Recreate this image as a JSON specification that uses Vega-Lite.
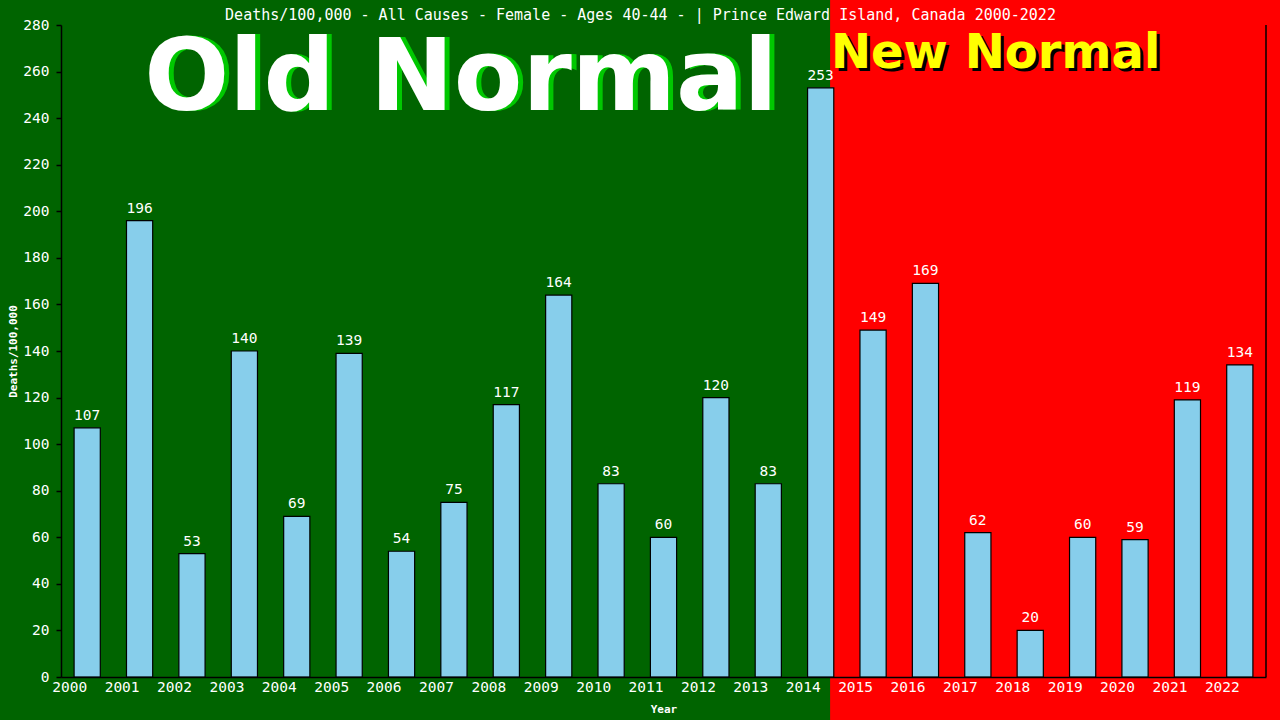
{
  "$schema": "https://vega.github.io/schema/vega-lite/v6.json",
  "width": 1205,
  "height": 652,
  "autosize": "none",
  "padding": {"left": 61, "top": 25, "right": 14, "bottom": 43},
  "background": "#006400",
  "config": {
    "view": {"stroke": null},
    "font": "DejaVu Sans Mono"
  },
  "title": {
    "text": "Deaths/100,000 - All Causes - Female - Ages 40-44 -  | Prince Edward Island, Canada 2000-2022",
    "color": "white",
    "font": "DejaVu Sans Mono",
    "fontSize": 15,
    "fontWeight": "normal",
    "anchor": "middle",
    "frame": "group",
    "baseline": "alphabetic",
    "dx": -23,
    "dy": 36,
    "offset": 0
  },
  "data": {
    "values": [
      {"year": "2000", "rate": 107},
      {"year": "2001", "rate": 196},
      {"year": "2002", "rate": 53},
      {"year": "2003", "rate": 140},
      {"year": "2004", "rate": 69},
      {"year": "2005", "rate": 139},
      {"year": "2006", "rate": 54},
      {"year": "2007", "rate": 75},
      {"year": "2008", "rate": 117},
      {"year": "2009", "rate": 164},
      {"year": "2010", "rate": 83},
      {"year": "2011", "rate": 60},
      {"year": "2012", "rate": 120},
      {"year": "2013", "rate": 83},
      {"year": "2014", "rate": 253},
      {"year": "2015", "rate": 149},
      {"year": "2016", "rate": 169},
      {"year": "2017", "rate": 62},
      {"year": "2018", "rate": 20},
      {"year": "2019", "rate": 60},
      {"year": "2020", "rate": 59},
      {"year": "2021", "rate": 119},
      {"year": "2022", "rate": 134}
    ]
  },
  "layer": [
    {
      "data": {"values": [{}]},
      "mark": {"type": "rect", "color": "#FF0000", "clip": false},
      "encoding": {
        "x": {"datum": "2014", "bandPosition": 0.86},
        "x2": {"datum": "2022", "bandPosition": 2.4},
        "y": {"datum": 291},
        "y2": {"datum": -25}
      }
    },
    {
      "data": {"values": [{}]},
      "mark": {"type": "text", "text": "Old Normal", "font": "DejaVu Sans", "fontWeight": "bold", "fontSize": 100, "color": "#00C800", "align": "center", "baseline": "alphabetic", "dx": 5},
      "encoding": {
        "x": {"datum": "2007", "bandPosition": 0.77},
        "y": {"datum": 243.5}
      }
    },
    {
      "data": {"values": [{}]},
      "mark": {"type": "text", "text": "Old Normal", "font": "DejaVu Sans", "fontWeight": "bold", "fontSize": 100, "color": "white", "align": "center", "baseline": "alphabetic"},
      "encoding": {
        "x": {"datum": "2007", "bandPosition": 0.77},
        "y": {"datum": 243.5}
      }
    },
    {
      "data": {"values": [{}]},
      "mark": {"type": "text", "text": "New Normal", "font": "DejaVu Sans", "fontWeight": "bold", "fontSize": 48, "color": "black", "align": "left", "baseline": "alphabetic", "dx": 3, "dy": 3},
      "encoding": {
        "x": {"datum": "2014", "bandPosition": 0.89},
        "y": {"datum": 261.5}
      }
    },
    {
      "data": {"values": [{}]},
      "mark": {"type": "text", "text": "New Normal", "font": "DejaVu Sans", "fontWeight": "bold", "fontSize": 48, "color": "#FFFF00", "align": "left", "baseline": "alphabetic"},
      "encoding": {
        "x": {"datum": "2014", "bandPosition": 0.89},
        "y": {"datum": 261.5}
      }
    },
    {
      "mark": {"type": "bar", "color": "#87CEEB", "stroke": "black", "strokeWidth": 1.2},
      "encoding": {
        "x": {
          "field": "year",
          "type": "nominal",
          "scale": {"paddingInner": 0.5, "paddingOuter": 0.25},
          "axis": {
            "title": "Year",
            "titleColor": "white",
            "titleFont": "DejaVu Sans Mono",
            "titleFontSize": 11,
            "titleFontWeight": "bold",
            "titlePadding": 10,
            "labelColor": "white",
            "labelFont": "DejaVu Sans Mono",
            "labelFontSize": 14.5,
            "labelAngle": 0,
            "labelPadding": 10,
            "ticks": false,
            "domainColor": "black",
            "domainWidth": 1.5,
            "zindex": 1
          }
        },
        "y": {
          "field": "rate",
          "type": "quantitative",
          "scale": {"domain": [0, 280], "nice": false},
          "axis": {
            "title": "Deaths/100,000",
            "titleColor": "white",
            "titleFont": "DejaVu Sans Mono",
            "titleFontSize": 11,
            "titleFontWeight": "bold",
            "titlePadding": 4,
            "values": [0, 20, 40, 60, 80, 100, 120, 140, 160, 180, 200, 220, 240, 260, 280],
            "grid": false,
            "labelColor": "white",
            "labelFont": "DejaVu Sans Mono",
            "labelFontSize": 14.5,
            "labelPadding": 7,
            "tickColor": "black",
            "tickSize": 5,
            "tickWidth": 1.5,
            "domainColor": "black",
            "domainWidth": 1.5,
            "zindex": 1
          }
        }
      }
    },
    {
      "mark": {"type": "text", "color": "white", "fontSize": 14.5, "font": "DejaVu Sans Mono", "baseline": "alphabetic", "dy": -8},
      "encoding": {
        "x": {"field": "year", "type": "nominal"},
        "y": {"field": "rate", "type": "quantitative"},
        "text": {"field": "rate", "type": "quantitative"}
      }
    },
    {
      "data": {"values": [{}]},
      "mark": {"type": "rule", "color": "black", "strokeWidth": 1.5},
      "encoding": {
        "x": {"datum": "2022", "bandPosition": 1.5},
        "y": {"datum": 0},
        "y2": {"datum": 280}
      }
    }
  ]
}
